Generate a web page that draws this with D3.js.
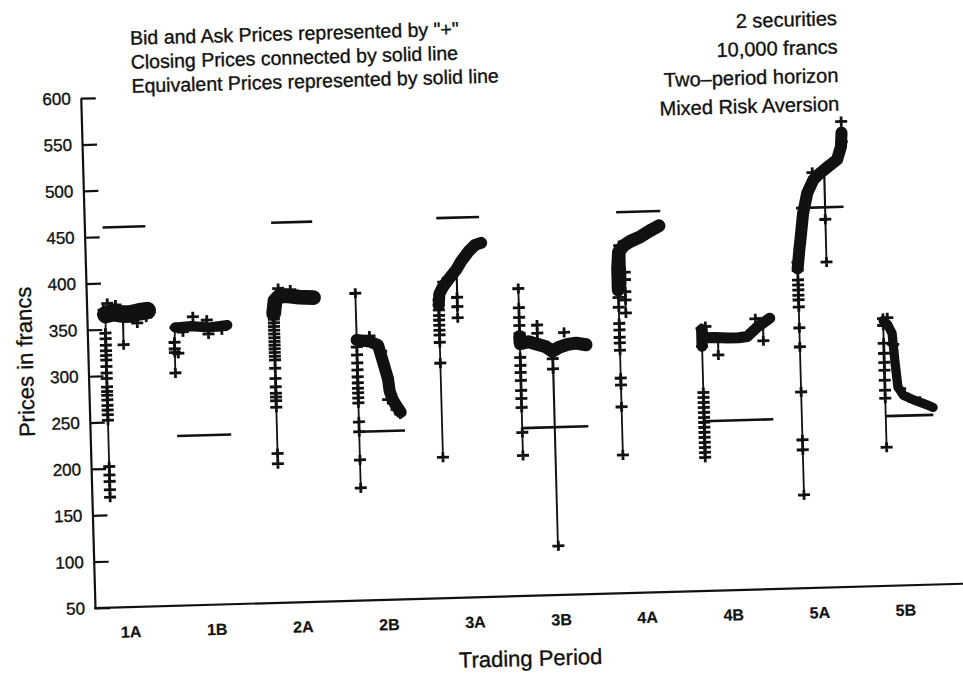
<!DOCTYPE html>
<html>
<head>
<meta charset="utf-8">
<script src="https://cdn.jsdelivr.net/npm/d3@7"></script>
<style>
    body { margin: 0; background: #fff; }
    text { font-family: "Liberation Sans", Arial, sans-serif; fill: #111; stroke: #111; stroke-width: 0.35px; }
</style>
</head>
<body>
<div id="chart"></div>
<script>
// trading periods and the price ticks on the left
const periods = ['1A', '1B', '2A', '2B', '3A', '3B', '4A', '4B', '5A', '5B'];
const yTicks = [50, 100, 150, 200, 250, 300, 350, 400, 450, 500, 550, 600];

// session clock (minutes) at which each period opens, and how long it lasts
const periodStart = [4.2, 20.1, 43.2, 62.2, 81.4, 99.9, 123.0, 142.0, 164.6, 184.0];
const periodLength = [9.9, 12.5, 9.5, 10.6, 9.9, 15.3, 10.2, 16.0, 11.0, 11.0];

// equivalent (theoretical) price per period
const equivPrice = [460, 233, 460, 232, 460, 231, 461, 233, 460, 233];

// typical bid/ask spread (francs) while trading is dense
const spread = [19, 11, 16, 13, 13, 14, 14, 12, 13, 10];

// closing prices, [minutes into period, price]
const closing = [
    [[0,169],[0,346],[0.2,366],[2,368],[4.1,366],[4.1,333],[4.2,367],[6,366],[8,368],[9.8,369]],
    [[0,301],[0,334],[0.2,350],[4,351],[8,349],[12.3,351]],
    [[0,200],[0,362],[0.4,376],[1.5,381],[3,381],[6,379],[9.3,378]],
    [[0,171.5],[0,381.4],[0.05,331],[1.5,330],[3,329],[4.9,325],[6,306],[7,288],[7.3,275],[8,265],[9,257],[9.7,252]],
    [[0,202],[0,378],[1,385],[2.3,393],[4.3,404],[4.3,352],[4.4,405],[5.5,413],[7.2,423],[8.8,430],[10.2,432]],
    [[0,201.6],[0,381.6],[0.05,322],[2,324],[4,321],[6,318],[7.5,313],[7.5,103],[7.6,314],[9,317],[11,320],[13,321],[15.3,319]],
    [[0,199],[0,400],[0.3,418],[1.6,425],[1.6,352],[1.7,426],[3,429],[5.5,434],[7.7,440],[9.8,445]],
    [[0,194],[0,333],[0.5,323],[3,323],[3.7,323],[3.7,304],[3.8,323],[6,322],[8.5,322],[10.5,323],[12.9,333],[14.2,336],[14.2,318],[14.3,337],[15.8,342]],
    [[0,150.6],[0,395],[0.5,415],[0.8,425],[1.6,454],[2.7,476],[4.2,490],[5.8,497],[6.7,500],[6.7,401],[6.8,500],[7.5,503],[9.8,511],[10.8,525],[11,552]],
    [[0,199.4],[0,338.5],[0.05,336],[1,332],[2,322],[2.5,290],[3,264],[4.2,255],[6.4,250],[9.6,244],[11,241]]
];

// stretch of each period where trades and quotes pile up
const dense = [
    [[0.2,366],[2,368],[4.1,366],[6,366],[8,368],[9.8,369]],
    [[0.2,350],[4,351],[8,349],[12.3,351]],
    [[0,362],[0.4,376],[1.5,381],[3,381],[6,379],[9.3,378]],
    [[0,331],[1.5,330],[3,329],[4.9,325],[6,306],[7,288],[7.3,275],[8,265],[9,257],[9.7,252]],
    [[0,366],[0.2,378],[1,385],[2.3,393],[4.3,404],[5.5,413],[7.2,423],[8.8,430],[10.2,432]],
    [[0,330],[0.1,322],[2,324],[4,321],[6,318],[7.5,313],[9,317],[11,320],[13,321],[15.3,319]],
    [[0,377],[0,400],[0.3,418],[1.6,425],[3,429],[5.5,434],[7.7,440],[9.8,445]],
    [[0,314],[0,332],[0.5,323],[3,323],[6,322],[8.5,322],[10.5,323],[12.9,333],[15.8,342]],
    [[0,395],[0.5,415],[0.8,425],[1.6,454],[2.7,476],[4.2,490],[5.8,497],[7.5,503],[9.8,511],[10.8,525],[11,540]],
    [[0,336],[1,332],[2,322],[2.5,290],[3,264],[4.2,255],[6.4,250],[9.6,244],[11,241]]
];

// bid and ask quotes ("+"), [minutes into period, price]
const quotes = [
    [[0,169],[0,177],[0,186],[0,193],[0,202],[0,252],[0,258],[0,263],[0,268],[0,274],[0,279],[0,283],[0,288],[0,297],[0,303],[0,310],[0,317],[0,322],[0,327],[0,333],[0,340],[0,346],[-0.3,371],[0.6,378],[4.1,333],[7.4,356],[2.5,376],[9.5,362]],
    [[0,301],[0,323],[0,327],[0,334],[0.8,322],[0.3,350],[4.4,361],[7.6,357],[7.9,342],[11,346],[2,345]],
    [[0,200],[0,211],[0,261],[0,268],[0,272],[0,276],[0,283],[0,292],[0,303],[0,312],[0,316],[0,320],[0,324],[0,328],[0,332],[0,336],[0,340],[0,344],[0,348],[0,352],[0,356],[0,360],[0,365],[1.2,389],[4,387]],
    [[0,171.5],[0,201.7],[0,232],[0,242.7],[0,263.2],[0,268.6],[0,274],[0,279],[0,284.8],[0,291.3],[0,298.8],[0,306.3],[0,315],[0,323.6],[0,381.4],[6.9,266],[8.8,255],[9.6,250],[3,335],[5.6,318]],
    [[0,202],[0,303.6],[0,326],[0,334],[0,339],[0,344.5],[0,350],[0,355],[0,361],[0,366],[0,372],[4.3,352],[4.3,364],[4.3,374],[1.2,391]],
    [[0,201.6],[0,226.4],[0,253.4],[0,263],[0,271.7],[0,282.5],[0,291],[0,298.7],[0,307.3],[0,323.5],[0,333.2],[0,341.8],[0,350.5],[0,361],[0,381.6],[4.1,341.7],[4.1,333],[10.3,333],[7.5,305],[7.5,294],[7.6,103]],
    [[0,199],[0,251],[0,274.5],[0,282],[0,312],[0,320],[0,326],[0,334],[0,341],[0,358.5],[0,369],[0,377],[0,383],[0,389],[0,395],[0,401],[1.6,352],[1.6,366],[1.6,375],[1.6,388],[1.6,396],[0.5,425]],
    [[0,194],[0,199.4],[0,204.8],[0,210.2],[0,215.6],[0,221],[0,226.4],[0,231.8],[0,237.1],[0,242.5],[0,247.9],[0,253.3],[0,258.7],[0,264],[0,314],[0,333],[0.9,335],[3.7,304],[14.2,318],[12.5,342]],
    [[0,150.6],[0,199.2],[0,210],[0,261.7],[0,310.3],[0,330.8],[0,353.4],[0,361],[0,366],[0,371.7],[0,377],[0,382.5],[0,393],[0,401.7],[6.7,447],[6.7,401],[4,498],[11,552],[11,530],[8.5,508]],
    [[0,199.4],[0,252.3],[0,260.9],[0,271.7],[0,282.5],[0,291],[0,300.8],[0,311.6],[0,331],[0,338.5],[1,339],[2.2,310],[3.5,262],[5.5,252],[8,248]]
];

const legendLines = ['Bid and Ask Prices represented by "+"', 'Closing Prices connected by solid line', 'Equivalent Prices represented by solid line'];
const notes = ['2 securities', '10,000 francs', 'Two\u2013period horizon', 'Mixed Risk Aversion'];

const width = 963, height = 675;
const ink = '#111';

const svg = d3.select('div#chart')
    .append('svg')
    .attr('width', width)
    .attr('height', height);

// the scanned page sits slightly askew
const g = svg.append('g').attr('transform', 'rotate(-1.6,95,608)');

const y = d3.scaleLinear().domain([50, 600]).range([608, 98]);
const x = d3.scaleLinear().domain([0, 200]).range([95, 960]);
const xCat = d3.scalePoint().domain(periods).range([130, 905]);

// y axis, ticks pointing into the plot
g.append('g')
    .attr('transform', 'translate(95,0)')
    .call(d3.axisLeft(y).tickValues(yTicks).tickSize(-15).tickSizeOuter(0).tickPadding(10))
    .call(a => {
        a.attr('font-size', 17).attr('font-family', '"Liberation Sans", Arial, sans-serif');
        a.select('.domain').attr('stroke', ink).attr('stroke-width', 2.2);
        a.selectAll('.tick line').attr('stroke', ink).attr('stroke-width', 2.2);
        a.selectAll('.tick text').style('fill', ink);
    });

// x axis baseline and period labels
g.append('line')
    .attr('x1', x(0) - 1).attr('x2', x.range()[1] + 8)
    .attr('y1', y(50)).attr('y2', y(50))
    .attr('stroke', ink).attr('stroke-width', 2.2);

g.append('g')
    .attr('transform', `translate(0,${y(50)})`)
    .call(d3.axisBottom(xCat).tickSize(0).tickPadding(19))
    .call(a => {
        a.select('.domain').remove();
        a.attr('font-size', 16).attr('font-weight', 'bold').attr('font-family', '"Liberation Sans", Arial, sans-serif');
        a.selectAll('text').style('fill', ink).style('stroke-width', '0.2px');
    });

g.append('text')
    .attr('x', 529).attr('y', 678)
    .attr('text-anchor', 'middle')
    .style('font-size', '22px')
    .text('Trading Period');

g.append('text')
    .attr('transform', 'translate(32,360) rotate(-90)')
    .attr('text-anchor', 'middle')
    .attr('dy', '0.35em')
    .style('font-size', '22px')
    .text('Prices in francs');

// legend text (top left) and notes (top right)
g.selectAll('text.legend')
    .data(legendLines)
    .enter()
    .append('text')
    .classed('legend', true)
    .attr('x', 146)
    .attr('y', (d, i) => 46 + i * 24)
    .style('font-size', '19.5px')
    .text(d => d);

g.selectAll('text.note')
    .data(notes)
    .enter()
    .append('text')
    .classed('note', true)
    .attr('x', 853)
    .attr('y', (d, i) => 46 + i * 28.5)
    .attr('text-anchor', 'end')
    .style('font-size', '20px')
    .text(d => d);

const px = (i, t) => x(periodStart[i] + t);
const line = i => d3.line().x(d => px(i, d[0])).y(d => y(d[1]));

// equivalent prices
g.selectAll('line.equiv')
    .data(periods)
    .enter()
    .append('line')
    .classed('equiv', true)
    .attr('x1', (d, i) => px(i, 0))
    .attr('x2', (d, i) => px(i, periodLength[i]))
    .attr('y1', (d, i) => y(equivPrice[i]))
    .attr('y2', (d, i) => y(equivPrice[i]))
    .attr('stroke', ink)
    .attr('stroke-width', 2.6);

// closing prices, thin connecting line
g.selectAll('path.closing')
    .data(periods)
    .enter()
    .append('path')
    .classed('closing', true)
    .attr('d', (d, i) => line(i)(closing[i]))
    .attr('fill', 'none')
    .attr('stroke', ink)
    .attr('stroke-width', 1.8);

// dense trading: the line thickened by the bid/ask spread
g.selectAll('path.dense')
    .data(periods)
    .enter()
    .append('path')
    .classed('dense', true)
    .attr('d', (d, i) => line(i)(dense[i]))
    .attr('fill', 'none')
    .attr('stroke', ink)
    .attr('stroke-linecap', 'round')
    .attr('stroke-linejoin', 'round')
    .attr('stroke-width', (d, i) => y(0) - y(spread[i]));

// bid and ask quotes as "+"
periods.forEach((p, i) => {
    g.append('g')
        .selectAll('path')
        .data(quotes[i])
        .enter()
        .append('path')
        .attr('transform', d => `translate(${px(i, d[0])},${y(d[1])})`)
        .attr('d', 'M-6,0H6M0,-5V5')
        .attr('stroke', ink)
        .attr('stroke-width', 2.8);
});
</script>
</body>
</html>
